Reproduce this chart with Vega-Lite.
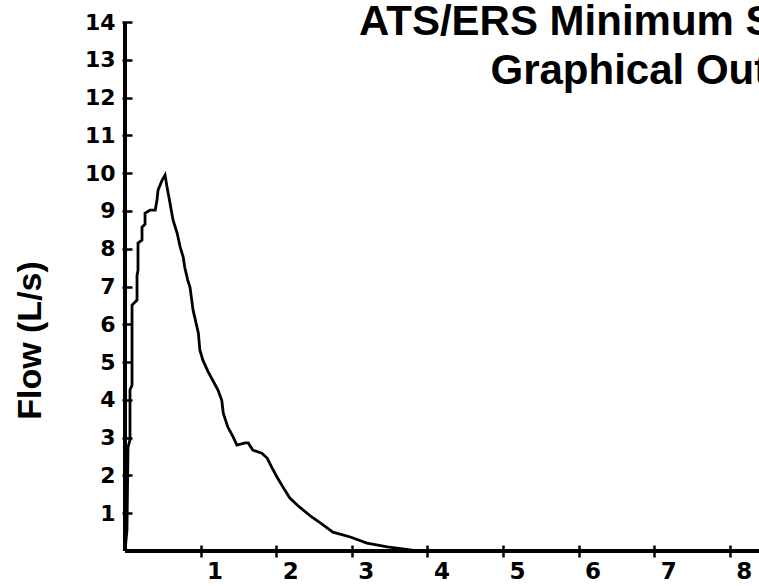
{
  "$schema": "https://vega.github.io/schema/vega-lite/v6.json",
  "width": 634,
  "height": 529,
  "autosize": {"type": "none"},
  "padding": {"left": 125, "top": 22, "right": 0, "bottom": 35},
  "background": "white",
  "config": {"view": {"stroke": null}},
  "title": {
    "text": ["ATS/ERS Minimum Standards:", "Graphical Output"],
    "font": "Liberation Sans",
    "fontSize": 42,
    "fontWeight": "bold",
    "color": "black",
    "anchor": "middle",
    "dx": 220,
    "lineHeight": 49,
    "baseline": "top",
    "offset": -82
  },
  "data": {"values": [
    {"i": 0, "volume": 0, "flow": 0},
    {"i": 1, "volume": 0.026, "flow": 0.56},
    {"i": 2, "volume": 0.04, "flow": 2.75},
    {"i": 3, "volume": 0.066, "flow": 2.94},
    {"i": 4, "volume": 0.066, "flow": 4.26},
    {"i": 5, "volume": 0.093, "flow": 4.39},
    {"i": 6, "volume": 0.093, "flow": 6.51},
    {"i": 7, "volume": 0.159, "flow": 6.64},
    {"i": 8, "volume": 0.159, "flow": 7.3},
    {"i": 9, "volume": 0.172, "flow": 7.43},
    {"i": 10, "volume": 0.172, "flow": 8.15},
    {"i": 11, "volume": 0.225, "flow": 8.23},
    {"i": 12, "volume": 0.225, "flow": 8.57},
    {"i": 13, "volume": 0.265, "flow": 8.65},
    {"i": 14, "volume": 0.265, "flow": 8.94},
    {"i": 15, "volume": 0.33, "flow": 9.02},
    {"i": 16, "volume": 0.4, "flow": 9.02},
    {"i": 17, "volume": 0.423, "flow": 9.29},
    {"i": 18, "volume": 0.437, "flow": 9.55},
    {"i": 19, "volume": 0.49, "flow": 9.81},
    {"i": 20, "volume": 0.53, "flow": 9.95},
    {"i": 21, "volume": 0.556, "flow": 9.63},
    {"i": 22, "volume": 0.595, "flow": 9.21},
    {"i": 23, "volume": 0.635, "flow": 8.76},
    {"i": 24, "volume": 0.69, "flow": 8.41},
    {"i": 25, "volume": 0.73, "flow": 8.04},
    {"i": 26, "volume": 0.77, "flow": 7.78},
    {"i": 27, "volume": 0.79, "flow": 7.51},
    {"i": 28, "volume": 0.83, "flow": 7.17},
    {"i": 29, "volume": 0.86, "flow": 6.98},
    {"i": 30, "volume": 0.9, "flow": 6.38},
    {"i": 31, "volume": 0.97, "flow": 5.77},
    {"i": 32, "volume": 0.99, "flow": 5.32},
    {"i": 33, "volume": 1.03, "flow": 5.05},
    {"i": 34, "volume": 1.1, "flow": 4.74},
    {"i": 35, "volume": 1.16, "flow": 4.52},
    {"i": 36, "volume": 1.23, "flow": 4.26},
    {"i": 37, "volume": 1.28, "flow": 3.99},
    {"i": 38, "volume": 1.3, "flow": 3.65},
    {"i": 39, "volume": 1.36, "flow": 3.28},
    {"i": 40, "volume": 1.43, "flow": 3.02},
    {"i": 41, "volume": 1.48, "flow": 2.8},
    {"i": 42, "volume": 1.59, "flow": 2.86},
    {"i": 43, "volume": 1.63, "flow": 2.86},
    {"i": 44, "volume": 1.69, "flow": 2.67},
    {"i": 45, "volume": 1.81, "flow": 2.59},
    {"i": 46, "volume": 1.88, "flow": 2.46},
    {"i": 47, "volume": 1.94, "flow": 2.22},
    {"i": 48, "volume": 2.01, "flow": 1.96},
    {"i": 49, "volume": 2.09, "flow": 1.69},
    {"i": 50, "volume": 2.18, "flow": 1.4},
    {"i": 51, "volume": 2.31, "flow": 1.16},
    {"i": 52, "volume": 2.47, "flow": 0.9},
    {"i": 53, "volume": 2.62, "flow": 0.69},
    {"i": 54, "volume": 2.75, "flow": 0.5},
    {"i": 55, "volume": 2.98, "flow": 0.37},
    {"i": 56, "volume": 3.2, "flow": 0.21},
    {"i": 57, "volume": 3.47, "flow": 0.11},
    {"i": 58, "volume": 3.77, "flow": 0.03},
    {"i": 59, "volume": 3.86, "flow": 0}
  ]},
  "layer": [
    {
      "mark": {"type": "rule", "color": "black", "strokeWidth": 3, "clip": false},
      "encoding": {
        "x": {"datum": 0, "type": "quantitative"},
        "y": {"datum": 0, "type": "quantitative"},
        "y2": {"datum": 14}
      }
    },
    {
      "mark": {"type": "rule", "color": "black", "strokeWidth": 3, "clip": false},
      "encoding": {
        "x": {"datum": 0, "type": "quantitative"},
        "x2": {"datum": 8.386},
        "y": {"datum": 0, "type": "quantitative"}
      }
    },
    {
      "mark": {"type": "line", "color": "black", "strokeWidth": 2.8, "strokeJoin": "miter", "clip": false},
      "encoding": {
        "order": {"field": "i", "type": "quantitative"},
        "x": {
          "field": "volume", "type": "quantitative",
          "scale": {"domain": [0, 8.386], "nice": false, "zero": false},
          "axis": {
            "orient": "bottom",
            "title": null,
            "format": "d",
            "values": [1, 2, 3, 4, 5, 6, 7, 8],
            "grid": false,
            "domain": false,
            "offset": -6,
            "tickColor": "black",
            "tickWidth": 2.5,
            "tickSize": 12,
            "labelFont": "DejaVu Sans",
            "labelFontWeight": "bold",
            "labelFontSize": 23,
            "labelColor": "black",
            "labelPadding": 3,
            "labelOffset": 14,
            "labelFlush": false,
            "labelOverlap": false
          }
        },
        "y": {
          "field": "flow", "type": "quantitative",
          "scale": {"domain": [0, 14], "nice": false, "zero": true},
          "axis": {
            "orient": "left",
            "title": "Flow (L/s)",
            "titleFont": "Liberation Sans",
            "titleFontWeight": "bold",
            "titleFontSize": 34,
            "titleColor": "black",
            "titleAngle": -90,
            "titleAlign": "center",
            "titleBaseline": "middle",
            "titleX": -102,
            "titleY": 318,
            "format": "d",
            "values": [1, 2, 3, 4, 5, 6, 7, 8, 9, 10, 11, 12, 13, 14],
            "grid": false,
            "domain": false,
            "offset": -7,
            "tickColor": "black",
            "tickWidth": 2.5,
            "tickSize": 10,
            "labelFont": "DejaVu Sans",
            "labelFontWeight": "bold",
            "labelFontSize": 22,
            "labelColor": "black",
            "labelPadding": 7,
            "labelFlush": false,
            "labelOverlap": false
          }
        }
      }
    }
  ]
}
